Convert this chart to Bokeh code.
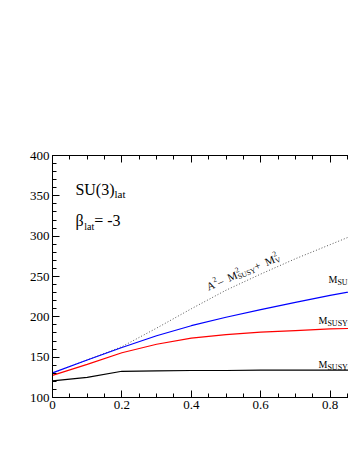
import math
from bokeh.plotting import figure
from bokeh.models import Label, LinearAxis, FixedTicker, Range1d
from bokeh.embed import file_html
from bokeh.resources import INLINE

# ---- data ----
alpha = [0.0, 0.1, 0.2, 0.3, 0.4, 0.5, 0.6, 0.7, 0.8, 0.9]
mh_high = [130.5, 146.5, 162.0, 176.5, 189.0, 199.5, 209.0, 218.0, 226.5, 234.5]
mh_mid = [127.5, 141.0, 155.5, 166.0, 173.5, 178.0, 181.0, 183.0, 185.0, 186.0]
mh_low = [120.5, 125.0, 132.5, 133.0, 133.5, 133.5, 134.0, 134.0, 134.0, 134.0]
mh_bound = [130.5, 146.5, 163.0, 186.0, 210.0, 233.0, 253.0, 272.0, 289.5, 307.0]

x_ticks = [0.0, 0.2, 0.4, 0.6, 0.8]
x_minor = [i * 0.05 for i in range(0, 19)]
y_ticks = [100, 150, 200, 250, 300, 350, 400]
y_minor = list(range(100, 401, 10))

SERIF = "Liberation Serif, Times New Roman, serif"

p = figure(width=348, height=442, output_backend="svg", toolbar_location=None,
           x_range=Range1d(0, 0.853), y_range=Range1d(100, 400),
           min_border_left=52, min_border_right=0, min_border_top=155,
           min_border_bottom=45, x_axis_type=None, y_axis_type=None)
p.outline_line_color = None
p.xgrid.visible = False
p.ygrid.visible = False
p.background_fill_color = "white"
p.border_fill_color = "white"


def style_axis(ax, ticks, minor, show_labels=True):
    ax.ticker = FixedTicker(ticks=ticks, minor_ticks=minor)
    ax.axis_line_color = "black"
    ax.axis_line_width = 1
    ax.major_tick_in = 7
    ax.major_tick_out = 0
    ax.minor_tick_in = 4
    ax.minor_tick_out = 0
    ax.major_tick_line_color = "black"
    ax.minor_tick_line_color = "black"
    ax.major_label_text_font = SERIF
    ax.major_label_text_font_size = "13px"
    ax.major_label_text_color = "black" if show_labels else None
    ax.major_label_standoff = 3


xb = LinearAxis()
style_axis(xb, x_ticks, x_minor)
p.add_layout(xb, "below")
yl = LinearAxis()
style_axis(yl, y_ticks, y_minor)
p.add_layout(yl, "left")
xt = LinearAxis()
style_axis(xt, x_ticks, x_minor, show_labels=False)
p.add_layout(xt, "above")

p.line(alpha, mh_bound, line_color="#555555", line_width=1, line_dash="1 2")
p.line(alpha, mh_low, line_color="black", line_width=1.2)
p.line(alpha, mh_mid, line_color="red", line_width=1.2)
p.line(alpha, mh_high, line_color="blue", line_width=1.2)

WIDTHS = {"A": .722, "M": .889, "S": .556, "U": .722, "Y": .722, "V": .722,
          "2": .5, "3": .5, " ": .25, "\u2013": .5, "+": .564, "=": .564,
          "l": .278, "a": .444, "t": .278, "e": .444, "r": .333, "h": .5,
          "m": .778, "G": .722, "[": .333, "]": .333, "(": .333, ")": .333,
          "-": .333, "\u03b2": .55, "\u03b1": .53}


def tw(s, size):
    return sum(WIDTHS.get(c, .5) for c in s) * size


def rich(x, y, parts, angle_deg=0.0):
    """parts: list of (text, size, raise_px, advance_flag)"""
    th = math.radians(angle_deg)
    d = 0.0
    for text, size, rise, adv in parts:
        xo = d * math.cos(th) - rise * math.sin(th)
        yo = d * math.sin(th) + rise * math.cos(th)
        p.add_layout(Label(x=x, y=y, x_offset=xo, y_offset=yo, text=text,
                           angle=th, text_font=SERIF,
                           text_font_size=f"{size}px", text_color="black",
                           text_baseline="alphabetic", text_align="left"))
        if adv:
            d += tw(text, size)


# panel text
rich(0.066, 358, [("SU(3)", 16, 0, True), ("lat", 11, -5, True)])
rich(0.066, 319.5, [("\u03b2", 16, 0, True), ("lat", 10, -6, True), ("= -3", 16, 0, True)])

# curve labels (cut by the right edge)
rich(0.7954, 246.3, [("M", 10, 0, True), ("SUSY=", 8, -3, True)])
rich(0.7666, 195.5, [("M", 10, 0, True), ("SUSY=", 8, -3, True)])
rich(0.7666, 140.9, [("M", 10, 0, True), ("SUSY=", 8, -3, True)])

# label along the dotted bound
rich(0.445, 237.0, [("A", 11, 0, True), ("2", 7.5, 4.5, True), (" \u2013 ", 11, 0, True),
                    ("M", 11, 0, True), ("2", 7.5, 4.5, False), ("SUSY", 7.5, -3, True),
                    (" + ", 11, 0, True), ("M", 11, 0, True), ("2", 7.5, 4.5, False),
                    ("V", 7.5, -3, True)], angle_deg=23)

# axis titles
rich(0.450, 60.9, [("\u03b1", 15, 0, True), ("lateral", 9, -3, True)])
rich(-0.0893, 220.2, [("m", 14, 0, True), ("h", 9, -3, True), (" [GeV]", 14, 0, True)],
     angle_deg=90)

open("out.html", "w").write(file_html(p, INLINE))
